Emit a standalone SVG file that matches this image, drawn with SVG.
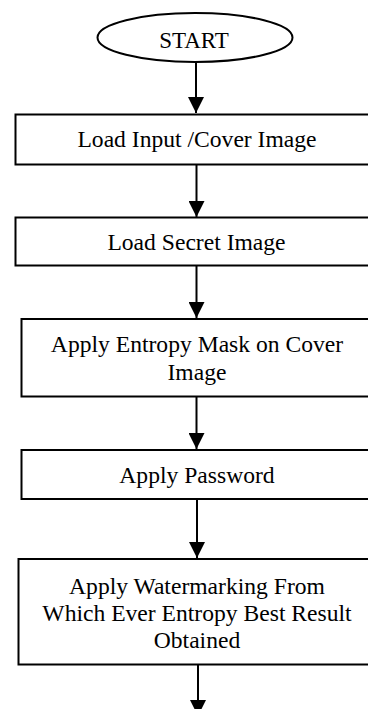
<svg xmlns="http://www.w3.org/2000/svg" width="368" height="709" viewBox="0 0 368 709">
<style>
.box{fill:#fff;stroke:#000;stroke-width:2}
.t{font-family:"Liberation Serif","Times New Roman",serif;font-size:23.6px;fill:#000;text-anchor:middle}
.c{stroke:#000;stroke-width:2;fill:none}
</style>
<defs>
<marker id="ah" markerUnits="userSpaceOnUse" markerWidth="16" markerHeight="16" refX="16" refY="8" orient="auto">
<path d="M0,0 L16,8 L0,16 Z" fill="#000"/>
</marker>
</defs>
<rect width="368" height="709" fill="#fff"/>
<g id="connectors">
<line class="c" x1="196" y1="62" x2="196" y2="113" marker-end="url(#ah)"/>
<line class="c" x1="196.5" y1="165" x2="196.5" y2="217" marker-end="url(#ah)"/>
<line class="c" x1="196.5" y1="266" x2="196.5" y2="318" marker-end="url(#ah)"/>
<line class="c" x1="196.5" y1="397" x2="196.5" y2="449" marker-end="url(#ah)"/>
<line class="c" x1="197" y1="500" x2="197" y2="558" marker-end="url(#ah)"/>
<line class="c" x1="198" y1="665" x2="198" y2="716" marker-end="url(#ah)"/>
</g>
<g id="start">
<ellipse class="box" cx="195" cy="37.5" rx="97.5" ry="24.5" stroke-width="1.8"/>
<text class="t" x="194" y="47.5" style="font-size:23px">START</text>
</g>
<g id="n1">
<rect class="box" x="15.5" y="114.5" width="364" height="50"/>
<text class="t" x="197" y="146.5">Load Input /Cover Image</text>
</g>
<g id="n2">
<rect class="box" x="15.5" y="217.5" width="364" height="48"/>
<text class="t" x="196.5" y="249.5">Load Secret Image</text>
</g>
<g id="n3">
<rect class="box" x="21.5" y="319" width="352" height="77.5"/>
<text class="t" x="197" y="351.5">Apply Entropy Mask on Cover</text>
<text class="t" x="197" y="380">Image</text>
</g>
<g id="n4">
<rect class="box" x="21.5" y="450" width="352" height="49"/>
<text class="t" x="197" y="482.5">Apply Password</text>
</g>
<g id="n5">
<rect class="box" x="18.5" y="559" width="358" height="105.5"/>
<text class="t" x="197" y="593.5">Apply Watermarking From</text>
<text class="t" x="197" y="620.5">Which Ever Entropy Best Result</text>
<text class="t" x="197" y="647.5">Obtained</text>
</g>
</svg>
